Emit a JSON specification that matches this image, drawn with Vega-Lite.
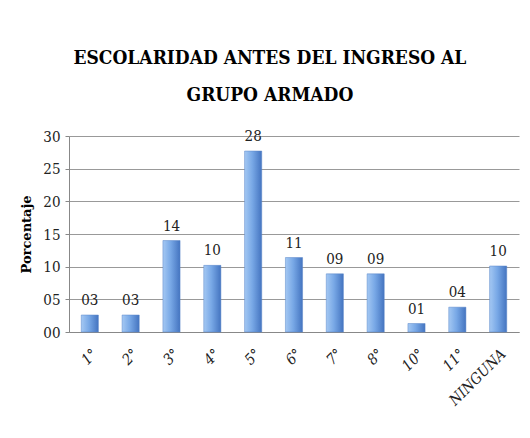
{
  "$schema": "https://vega.github.io/schema/vega-lite/v6.json",
  "width": 450,
  "height": 196,
  "padding": {"left": 20, "top": 49, "right": 10, "bottom": 5},
  "background": "white",
  "title": {
    "text": ["ESCOLARIDAD ANTES DEL INGRESO AL", "GRUPO ARMADO"],
    "font": "DejaVu Serif Condensed",
    "fontWeight": "bold",
    "fontSize": 19,
    "lineHeight": 37,
    "color": "#000000",
    "anchor": "middle",
    "frame": "bounds",
    "offset": 24
  },
  "data": {
    "values": [
      {"grado": "1°", "porcentaje": 2.6},
      {"grado": "2°", "porcentaje": 2.6},
      {"grado": "3°", "porcentaje": 14.0},
      {"grado": "4°", "porcentaje": 10.2},
      {"grado": "5°", "porcentaje": 27.7},
      {"grado": "6°", "porcentaje": 11.4},
      {"grado": "7°", "porcentaje": 8.9},
      {"grado": "8°", "porcentaje": 8.9},
      {"grado": "10°", "porcentaje": 1.3},
      {"grado": "11°", "porcentaje": 3.8},
      {"grado": "NINGUNA", "porcentaje": 10.1}
    ]
  },
  "encoding": {
    "x": {
      "field": "grado",
      "type": "nominal",
      "sort": null,
      "scale": {"paddingInner": 0.58, "paddingOuter": 0.3},
      "axis": {
        "title": null,
        "labelAngle": -45,
        "labelFont": "DejaVu Serif Condensed",
        "labelFontStyle": "italic",
        "labelFontSize": 15,
        "labelColor": "#222222",
        "labelPadding": 14,
        "ticks": false,
        "domain": true,
        "domainColor": "#888888"
      }
    },
    "y": {
      "field": "porcentaje",
      "type": "quantitative",
      "scale": {"domain": [0, 30]},
      "axis": {
        "title": "Porcentaje",
        "titleFont": "DejaVu Serif",
        "titleFontWeight": "bold",
        "titleFontSize": 13,
        "titleColor": "#000000",
        "titlePadding": 9,
        "values": [0, 5, 10, 15, 20, 25, 30],
        "format": "02d",
        "labelFont": "DejaVu Serif Condensed",
        "labelFontSize": 15,
        "labelColor": "#222222",
        "labelPadding": 5,
        "tickSize": 4,
        "tickColor": "#888888",
        "domainColor": "#888888",
        "gridColor": "#999999",
        "gridWidth": 1
      }
    }
  },
  "layer": [
    {
      "mark": {
        "type": "bar",
        "color": {
          "gradient": "linear",
          "x1": 0, "y1": 0, "x2": 1, "y2": 0,
          "stops": [
            {"offset": 0, "color": "#a4c8f3"},
            {"offset": 0.45, "color": "#78a8e6"},
            {"offset": 1, "color": "#4474c0"}
          ]
        },
        "stroke": "#5a86c8",
        "strokeWidth": 0.5
      }
    },
    {
      "mark": {
        "type": "text",
        "dy": -15,
        "font": "DejaVu Serif Condensed",
        "fontSize": 15,
        "color": "#222222"
      },
      "encoding": {
        "text": {"field": "porcentaje", "type": "quantitative", "format": "02.0f"}
      }
    }
  ],
  "config": {
    "view": {"stroke": null}
  }
}
